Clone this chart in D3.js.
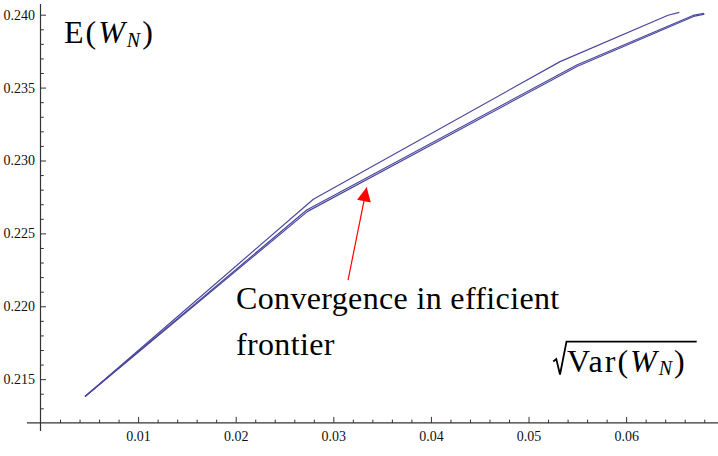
<!DOCTYPE html>
<html>
<head>
<meta charset="utf-8">
<script src="https://cdn.jsdelivr.net/npm/d3@7"></script>
<style>
  body { margin: 0; background: white; }
  svg { display: block; }
</style>
</head>
<body>
<svg id="chart" width="718" height="456"></svg>
<script>
// frontier curves (sqrt Var, E)
const upperX = [0.00456, 0.02795, 0.05323, 0.06429, 0.06545];
const upperY = [0.21381, 0.22734, 0.23678, 0.23996, 0.24016];
const lowerAX = [0.00456, 0.02727, 0.05494, 0.06685, 0.06798];
const lowerAY = [0.21381, 0.22660, 0.23655, 0.23995, 0.24010];
const lowerBX = [0.00456, 0.02737, 0.05502, 0.06690, 0.06802];
const lowerBY = [0.21381, 0.22651, 0.23646, 0.23988, 0.24004];

const xMajor = [0.01, 0.02, 0.03, 0.04, 0.05, 0.06];
const yMajor = [0.215, 0.220, 0.225, 0.230, 0.235, 0.240];

const FONT = "'Liberation Serif', 'Times New Roman', serif";
const svg = d3.select("#chart").attr("font-family", FONT);
const width = 718, height = 456;

const x = d3.scaleLinear().domain([0, 0.0694]).range([40.5, 717.9]);
const y = d3.scaleLinear().domain([0.212, 0.240]).range([422.9, 14.7]);

const axisColor = "#333";

//minor tick values
const xMinor = d3.range(1, 35).map(i => +(i * 0.002).toFixed(3)).filter(v => !xMajor.some(m => Math.abs(m - v) < 1e-9));
const yMinor = d3.range(213, 241).map(i => i / 1000).filter(v => !yMajor.some(m => Math.abs(m - v) < 1e-9));

//x axis
const gx = svg.append("g").attr("transform", `translate(0,${y(0.212)})`);
gx.call(d3.axisBottom(x).tickValues(xMajor).tickSize(-6).tickPadding(8).tickFormat(d3.format(".2f")))
  .call(g => g.select(".domain").remove());
gx.append("g").call(d3.axisBottom(x).tickValues(xMinor).tickSize(-3.3).tickFormat(""))
  .call(g => g.select(".domain").remove());

//y axis
const gy = svg.append("g").attr("transform", `translate(${x(0)},0)`);
gy.call(d3.axisLeft(y).tickValues(yMajor).tickSize(-5.5).tickPadding(5.5).tickFormat(d3.format(".3f")))
  .call(g => g.select(".domain").remove());
gy.append("g").call(d3.axisLeft(y).tickValues(yMinor).tickSize(-3.3).tickFormat(""))
  .call(g => g.select(".domain").remove());

[gx, gy].forEach(g => g.attr("font-family", FONT).attr("font-size", 14));
svg.selectAll(".tick line").attr("stroke", axisColor).attr("stroke-width", 1);
svg.selectAll(".tick text").attr("fill", "#111");

//axis lines (cross a bit past origin)
svg.append("line").attr("x1", 27).attr("x2", width).attr("y1", y(0.212)).attr("y2", y(0.212))
  .attr("stroke", axisColor).attr("stroke-width", 1.2);
svg.append("line").attr("x1", x(0)).attr("x2", x(0)).attr("y1", 4).attr("y2", 431)
  .attr("stroke", axisColor).attr("stroke-width", 1.2);

//curves
const line = d3.line().x(d => x(d[0])).y(d => y(d[1]));
const series = [
  d3.zip(upperX, upperY),
  d3.zip(lowerAX, lowerAY),
  d3.zip(lowerBX, lowerBY)
];
svg.append("g").selectAll("path")
  .data(series)
  .join("path")
  .attr("d", line)
  .attr("fill", "none")
  .attr("stroke", "#4a479e")
  .attr("stroke-width", 1.2)
  .attr("stroke-linejoin", "round");

//y label E(W_N)
const tY = svg.append("text").attr("x", 64).attr("y", 43.3)
  .attr("font-size", 32).attr("letter-spacing", 2).attr("fill", "#000");
tY.append("tspan").text("E(");
tY.append("tspan").attr("font-style", "italic").text("W");
tY.append("tspan").attr("font-style", "italic").attr("font-size", 20).attr("dy", 3.5).text("N");
tY.append("tspan").attr("dy", -3.5).text(")");

//x label sqrt(Var(W_N))
svg.append("path")
  .attr("d", "M553.3,361.5 L556.3,359 L560,374.5 L566.5,341.7 L696.7,341.7")
  .attr("fill", "none").attr("stroke", "#000").attr("stroke-width", 1.8).attr("stroke-linejoin", "miter");
const tX = svg.append("text").attr("x", 567).attr("y", 371.7)
  .attr("font-size", 32).attr("letter-spacing", 2).attr("fill", "#000");
tX.append("tspan").text("Var(");
tX.append("tspan").attr("font-style", "italic").text("W");
tX.append("tspan").attr("font-style", "italic").attr("font-size", 20).attr("dy", 3.5).text("N");
tX.append("tspan").attr("dy", -3.5).text(")");

//annotation
const tipX = 0.03342, tipY = 0.22816, tailX = 0.03151, tailY = 0.22180;
svg.append("defs").append("marker")
  .attr("id", "head").attr("viewBox", "0 0 10 10").attr("refX", 10).attr("refY", 5)
  .attr("markerWidth", 26).attr("markerHeight", 14).attr("markerUnits", "userSpaceOnUse")
  .attr("orient", "auto")
  .append("path").attr("d", "M0,0 L10,5 L0,10 Z").attr("fill", "#ff0000");
svg.append("line")
  .attr("x1", x(tailX)).attr("y1", y(tailY)).attr("x2", x(tipX)).attr("y2", y(tipY))
  .attr("stroke", "#ff0000").attr("stroke-width", 1.2).attr("marker-end", "url(#head)");

svg.append("text").attr("x", 236).attr("y", 309).attr("font-size", 32).attr("letter-spacing", 0.35).attr("fill", "#000")
  .text("Convergence in efficient");
svg.append("text").attr("x", 236).attr("y", 355).attr("font-size", 32).attr("letter-spacing", 0.35).attr("fill", "#000")
  .text("frontier");
</script>
</body>
</html>
